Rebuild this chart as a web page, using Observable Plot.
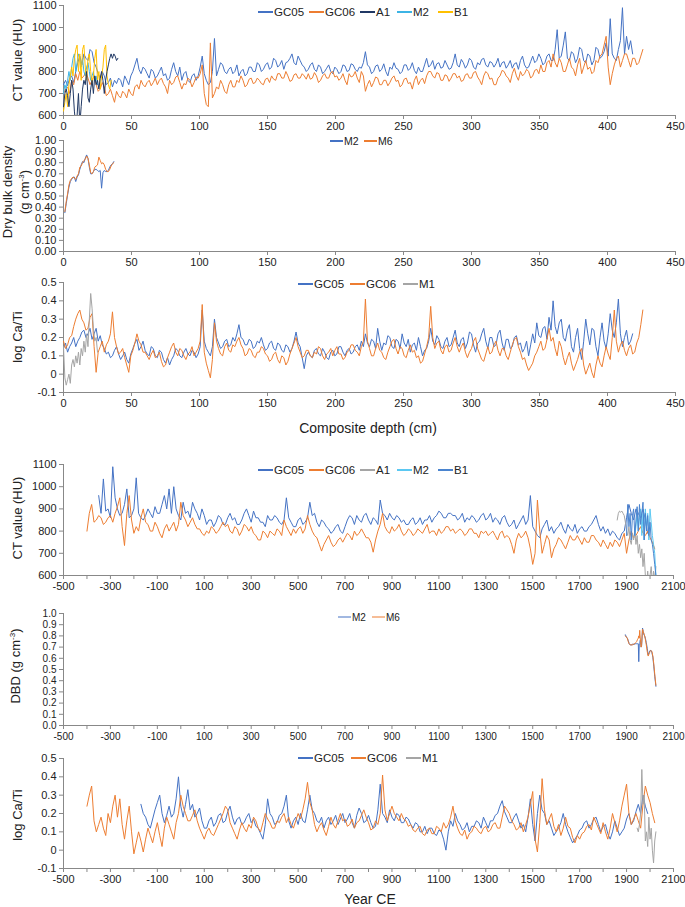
<!DOCTYPE html>
<html>
<head>
<meta charset="utf-8">
<script src="https://cdn.jsdelivr.net/npm/d3@7"></script>
<script src="https://cdn.jsdelivr.net/npm/@observablehq/plot@0.6"></script>
<style>
  body { margin: 0; background: #fff; font-family: "Liberation Sans", Arial, Helvetica, sans-serif; color: #222; }
  #wrap { position: relative; width: 685px; height: 907px; overflow: hidden; }
  .panel { position: absolute; left: 0; }
  .ytitle { position: absolute; transform: translate(-50%, -50%) rotate(-90deg); white-space: nowrap; font-size: 13px; line-height: 17px; text-align: center; }
  .ytitle sup { font-size: 8px; vertical-align: 5px; line-height: 0; }
  .xtitle { position: absolute; transform: translate(-50%, -50%); white-space: nowrap; font-size: 14px; }
  .leg { position: absolute; display: flex; align-items: center; white-space: nowrap; transform: translateY(-50%); }
  .leg i { display: inline-block; height: 1.5px; margin-right: 1px; }
</style>
</head>
<body>
<div id="wrap"></div>
<script>
// Sediment cores: CT value, dry bulk density and log Ca/Ti, vs depth and vs year

const FONT = '"Liberation Sans", Arial, Helvetica, sans-serif';

// --- CT value vs composite depth (cm), GC cores every 1.5 cm
const ctDepthGC05 = [
  740,760,735,770,780,750,800,840,870,830,880,860,850,900,890,840,820,790,770,800,780,740,750,770,730,760,745,770,
  760,730,780,760,740,780,800,830,860,810,790,820,
  810,790,770,810,800,770,780,800,820,780,790,760,770,810,840,800,780,820,760,790,800,760,750,780,790,760,780,820,
  870,790,760,740,750,800,950,780,
  810,840,830,800,790,810,820,790,800,830,780,800,810,780,790,820,820,800,800,840,830,800,810,830,
  840,810,820,860,850,820,830,850,810,840,845,860,880,840,830,870,850,830,820,800,
  810,830,840,810,800,830,820,790,800,815,830,800,790,820,810,790,800,830,825,800,805,835,830,810,800,820,815,840,
  890,830,820,790,800,825,830,800,810,835,800,780,820,810,840,815,810,790,800,830,830,805,815,840,805,790,820,800,800,830,860,820,
  830,850,810,835,840,815,820,850,830,810,815,840,880,830,
  820,855,840,815,830,860,850,820,810,840,830,855,860,830,820,845,840,820,835,860,820,840,845,815,830,850,815,835,840,810,850,870,830,815,
  820,845,870,840,850,880,860,830,840,870,880,850,
  850,900,990,860,870,920,980,860,850,890,880,840,860,910,900,850,840,880,870,830,850,910,900,860,870,890,930,870,1040,880,860,850,900,940,1090,880,960,900,940,880
];
const ctDepthGC06 = [
  700,720,730,700,760,740,790,760,800,770,780,800,770,740,760,780,740,710,720,750,730,690,700,720,690,660,710,690,
  680,710,700,680,720,700,690,730,740,720,760,740,
  730,750,760,735,750,770,740,760,770,745,730,700,760,740,750,775,780,750,720,745,740,770,760,730,750,775,770,790,
  830,700,650,640,930,680,700,730,
  720,760,740,710,700,740,760,730,730,760,750,780,760,730,740,765,770,745,750,770,760,745,740,765,
  770,750,780,765,760,790,790,770,770,800,780,755,760,785,790,770,770,790,780,765,
  790,765,770,795,780,750,760,780,790,770,770,795,800,775,780,760,770,790,760,740,790,775,780,800,770,750,800,780,
  710,740,760,730,750,775,770,740,740,760,760,735,750,770,780,755,760,730,740,765,770,745,750,720,760,780,740,760,770,745,780,800,
  800,780,770,795,790,760,760,785,780,755,770,790,790,770,
  780,755,760,785,790,770,770,795,800,775,760,740,780,800,790,765,770,740,740,770,780,805,800,780,770,750,790,815,780,760,800,780,790,810,
  800,770,780,805,810,790,830,800,800,840,850,820,
  880,840,820,860,840,800,800,830,860,820,810,780,830,860,790,820,850,810,820,790,800,850,840,870,880,920,960,820,740,790,830,860,870,820,850,880,880,850,820,860,860,830,840,870,900
];
// short cores, every 1 cm
const ctDepthA1 = [
  640,700,720,690,640,700,760,720,620,560,
  600,700,560,640,720,760,740,800,680,660,
  720,760,700,780,740,760,720,770,800,760,
  700,760,800,830,860,880,860,880,870,850,860
];
const ctDepthM2 = [700,740,720,760,800,760,820,860,880,800,840,880,860,820,860,800,780,820,840,800,760,780,800,760,780,740];
const ctDepthB1 = [
  620,660,700,640,740,780,820,780,860,900,
  920,800,880,760,900,920,820,760,860,880,
  800,740,780,860,900,760,800,720,780,820,
  900,920,780,740,720,760
];

// --- Dry bulk density vs depth, 1..37 cm
const dbdDepthM2 = [.35,.43,.51,.58,.63,.65,.67,.67,.63,.67,.69,.74,.78,.81,.80,.84,.87,.84,.76,.70,.70,.72,.74,.74,.73,.72,.73,.57,.71,.73,.72,.72,.73,.76,.78,.79,.81];
const dbdDepthM6 = [.36,.45,.52,.60,.64,.66,.67,.66,.65,.68,.70,.76,.77,.80,.82,.83,.86,.84,.78,.71,.70,.72,.76,.77,.78,.85,.82,.79,.80,.78,.74,.72,.72,.74,.77,.79,.80];

// --- log Ca/Ti vs depth, every 1.5 cm
const caDepthGC05 = [
  .14,.17,.12,.15,.17,.20,.15,.18,.20,.23,.24,.20,.22,.25,.19,.22,.25,.18,.21,.16,.14,.11,.12,.09,.10,.13,.15,.11,
  .08,.10,.12,.08,.06,.11,.14,.17,.19,.13,.15,.18,
  .13,.11,.10,.15,.14,.10,.09,.13,.12,.08,.06,.09,.05,.08,.10,.14,.13,.10,.09,.12,.14,.11,.10,.13,.12,.09,.11,.15,
  .35,.18,.14,.12,.10,.15,.30,.20,
  .17,.14,.15,.18,.19,.15,.16,.20,.18,.22,.27,.20,.19,.16,.16,.19,.18,.14,.15,.18,.17,.20,.16,.13,
  .14,.17,.18,.14,.13,.17,.16,.13,.12,.16,.15,.12,.14,.18,.23,.17,.15,.09,.03,.10,
  .12,.10,.09,.13,.14,.11,.10,.14,.12,.09,.08,.12,.13,.10,.11,.15,.15,.12,.10,.13,.14,.11,.12,.15,.16,.13,.18,.15,
  .22,.17,.15,.19,.18,.14,.25,.18,.13,.17,.16,.21,.20,.15,.14,.19,.18,.14,.22,.17,.15,.19,.12,.16,.17,.13,.20,.15,.10,.13,.14,.18,
  .25,.18,.16,.21,.19,.15,.14,.18,.20,.15,.16,.20,.24,.17,
  .15,.19,.20,.14,.17,.23,.22,.16,.12,.17,.18,.22,.25,.18,.14,.20,.20,.15,.16,.22,.24,.17,.13,.19,.19,.14,.15,.20,.21,.16,.17,.12,.14,.18,
  .10,.16,.22,.17,.28,.21,.20,.25,.26,.19,.31,.24,
  .40,.26,.22,.28,.30,.20,.18,.24,.27,.15,.12,.20,.25,.14,.08,.18,.30,.22,.16,.25,.24,.15,.10,.20,.28,.18,.14,.22,.33,.24,.20,.28,.41,.22,.15,.20,.24,.16,.18,.22
];
const caDepthGC06 = [
  .18,.14,.16,.20,.21,.26,.30,.33,.35,.30,.28,.24,.25,.31,.33,.15,.01,.12,.15,.18,.12,.16,.18,.22,.34,.20,.15,.11,
  .12,.14,.09,.05,.01,.10,.13,.17,.22,.18,.16,.12,
  .12,.10,.08,.11,.13,.09,.10,.12,.07,.04,.05,.09,.12,.15,.17,.12,.10,.14,.13,.10,.08,.11,.12,.15,.10,.12,.14,.18,
  .38,.12,.06,.02,-.02,.08,.28,.18,
  .14,.11,.10,.15,.17,.13,.12,.16,.15,.18,.20,.16,.14,.10,.11,.14,.13,.10,.09,.12,.12,.15,.14,.11,
  .10,.07,.08,.11,.12,.08,.06,.10,.09,.05,.07,.11,.14,.17,.20,.15,.12,.09,.10,.13,
  .13,.10,.09,.12,.11,.15,.14,.10,.08,.11,.12,.14,.10,.13,.15,.11,.11,.08,.09,.12,.13,.16,.16,.13,.12,.10,.15,.18,
  .41,.18,.14,.10,.10,.14,.17,.13,.12,.09,.08,.12,.15,.18,.19,.14,.11,.15,.14,.10,.09,.13,.16,.12,.13,.09,.10,.06,.07,.11,.15,.20,
  .37,.20,.14,.17,.18,.13,.11,.15,.16,.12,.13,.17,.20,.15,
  .12,.15,.17,.12,.09,.12,.14,.18,.20,.14,.11,.08,.07,.11,.15,.11,.12,.16,.18,.13,.10,.14,.14,.10,.08,.12,.16,.19,.20,.15,.12,.08,.09,.05,
  .02,.04,.06,.10,.12,.15,.18,.13,.14,.19,.25,.18,
  .20,.14,.10,.18,.15,.09,.05,.09,.12,.06,.02,.05,.08,.12,.14,.05,.00,.03,.06,.01,-.02,.05,.10,.06,.04,.10,.15,.11,.08,.20,.35,.18,.12,.16,.18,.13,.10,.14,.16,.11,.12,.17,.20,.27,.35
];
const caDepthM1 = [.15,-.02,-.06,-.03,.00,-.05,.05,.08,.04,.10,.06,.12,.05,.14,.10,.18,.12,.22,.15,.30,.44,.36,.25,.18,.20,.12];

// --- CT value vs year CE, every 10 years
const ctYearGC05 = [ // from -350
  960,880,1035,890,900,860,1090,950,900,870,880,920,990,860,870,900,1040,880,860,850,
  870,900,880,860,910,880,880,920,960,900,990,880,1000,900,870,850,930,880,890,860,
  930,900,880,850,900,870,830,850,850,820,840,870,860,830,830,860,880,850,860,830,
  830,850,880,900,870,840,890,860,860,840,840,820,870,850,850,870,860,840,830,850,
  950,860,840,820,820,850,860,830,840,860,930,870,880,840,820,850,840,820,810,790,
  800,820,830,800,790,820,850,870,860,830,870,850,840,870,880,850,830,860,850,830,
  940,880,870,850,880,860,850,870,860,840,850,830,830,850,860,830,840,860,830,850,
  850,870,840,860,870,890,880,860,860,880,880,870,870,850,860,880,840,860,850,870,
  860,840,850,870,880,850,860,880,840,860,850,830,860,870,840,820,830,850,810,830,
  850,870,830,850,960,820,800,780,770,810,830,850,800,820,790,810,820,840,810,790,
  830,810,800,830,790,810,820,800,800,820,830,850,870,830,800,820,790,810,780,800,
  790,770,760,790,800,860,920,880,850,900,880,860,900,850,790
];
const ctYearGC06 = [ // from -400
  800,880,920,840,850,870,860,830,840,860,870,840,880,910,950,820,735,880,960,850,
  790,820,800,860,900,840,830,800,800,840,820,790,770,810,830,800,820,840,800,830,
  930,870,850,820,840,860,830,810,810,790,780,800,790,820,810,790,800,820,840,820,
  830,800,790,820,810,780,800,830,820,800,820,790,780,760,760,800,790,770,800,790,
  780,810,800,780,850,820,800,780,810,790,810,820,790,810,870,830,800,780,770,740,
  710,740,760,780,750,730,740,760,770,750,770,790,780,760,800,780,790,810,790,770,
  770,750,705,760,800,830,880,820,800,790,820,800,810,830,800,780,790,810,800,780,
  790,810,800,790,810,830,790,800,800,780,810,790,800,820,820,800,810,790,800,810,
  800,780,790,810,810,790,790,770,800,790,800,780,790,800,780,760,790,800,770,780,
  770,740,700,760,790,770,780,800,770,720,650,700,940,800,700,740,780,760,680,720,
  740,770,760,740,720,750,780,760,760,780,760,740,770,750,750,780,780,760,750,730,
  760,740,720,750,730,760,750,730,760,790,700,760,800,770,780,800,820,790,780,800,
  770,750,720
];
// short cores, every 5 years
const ctYearA1 = [ // from 1860
  850,880,890,885,890,880,870,840,800,780,
  820,760,740,790,760,800,740,780,700,740,
  680,720,640,700,600,560,620,560,600,640,
  560,620,580,640
];
const ctYearM2 = [780,820,880,800,860,900,780,880,760,900,820,880,760,900,840,780,740,700,600]; // from 1935
const ctYearB1 = [ // from 1900
  780,920,820,880,760,870,900,780,850,910,800,920,830,880,930,760,880,800,870,780,840,760,740,700,650,600
];

// --- DBD vs year CE
const dbdYears = [1895,1899,1903,1907,1911,1915,1919,1923,1927,1931,1935,1939,1943,1947,1950,1952,1954,1956,1958,1960,1962,1964,1966,1968,1971,1974,1977,1980,1984,1988,1992,1996,2000,2004,2008,2012,2016,2020,2025];
const dbdYearM2 = [.81,.79,.78,.76,.73,.72,.72,.72,.73,.72,.73,.73,.73,.73,.73,.57,.72,.73,.76,.74,.70,.71,.79,.87,.84,.81,.80,.78,.74,.69,.63,.65,.67,.67,.65,.61,.53,.44,.35];
const dbdYearM6 = [.80,.79,.78,.75,.73,.72,.72,.72,.72,.73,.73,.74,.75,.77,.78,.80,.78,.85,.79,.74,.70,.72,.78,.86,.84,.82,.80,.77,.72,.66,.62,.64,.66,.67,.66,.62,.55,.46,.36];

// --- log Ca/Ti vs year CE, every 10 years
const caYearGC05 = [ // from -170
  .25,.20,.18,.14,.12,.17,.22,.26,.30,.20,.15,.19,.24,.18,.20,.28,.40,.24,.18,.25,.33,.22,
  .25,.18,.20,.23,.16,.12,.12,.16,.18,.13,.15,.19,.20,.15,.16,.21,.24,.18,.14,.17,.18,.14,
  .15,.18,.20,.15,.17,.13,.12,.09,.06,.14,.28,.20,.18,.14,.15,.19,.20,.24,.30,.16,
  .12,.16,.18,.14,.20,.16,.15,.22,.30,.22,.20,.16,.15,.18,.12,.16,.18,.14,.16,.19,
  .14,.17,.20,.15,.17,.20,.15,.12,.19,.23,.20,.15,.16,.19,.15,.12,.13,.22,.36,.20,
  .18,.15,.22,.18,.16,.20,.19,.15,.15,.18,.17,.14,.12,.15,.14,.10,.10,.13,.09,.12,
  .12,.09,.08,.11,.10,.06,.00,.10,.16,.13,.20,.16,.14,.11,.12,.15,.10,.13,.13,.16,
  .15,.12,.18,.15,.12,.16,.16,.19,.20,.24,.27,.21,.18,.15,.15,.18,.20,.16,.12,.14,
  .10,.18,.28,.14,.05,.20,.30,.22,.20,.14,.16,.12,.08,.10,.12,.15,.20,.14,.10,.07,
  .04,.06,.08,.11,.12,.15,.16,.12,.14,.17,.18,.14,.10,.13,.14,.09,.06,.10,.16,.12,
  .08,.10,.12,.17,.20,.14,.16,.21,.25,.20,.30,.24,.20
];
const caYearGC06 = [ // from -400
  .24,.30,.35,.16,.10,.14,.18,.12,.08,.20,.15,.24,.30,.18,.28,.14,.06,.16,.24,.10,
  -.02,.04,.10,.05,-.01,.06,.12,.08,.04,.10,.15,.08,.02,.12,.18,.14,.10,.06,.15,.20,
  .30,.24,.20,.16,.16,.19,.22,.16,.12,.09,.06,.10,.12,.09,.08,.11,.14,.17,.20,.24,
  .22,.15,.12,.09,.06,.11,.15,.12,.10,.14,.12,.18,.16,.12,.10,.15,.20,.17,.15,.12,
  .12,.16,.15,.18,.20,.15,.18,.14,.12,.16,.20,.17,.22,.28,.37,.26,.22,.14,.10,.13,
  .15,.11,.08,.13,.18,.14,.12,.16,.20,.16,.17,.13,.14,.17,.12,.15,.16,.19,.22,.18,
  .15,.11,.12,.16,.14,.20,.41,.22,.16,.20,.24,.20,.18,.16,.20,.17,.16,.13,.14,.11,
  .10,.12,.13,.09,.08,.11,.12,.09,.09,.13,.12,.10,.15,.12,.14,.18,.24,.16,.12,.09,
  .08,.11,.06,.09,.10,.13,.12,.10,.09,.12,.13,.10,.11,.14,.15,.12,.12,.18,.24,.22,
  .20,.16,.14,.11,.12,.15,.10,.14,.18,.25,.32,.06,-.01,.15,.39,.22,.14,.17,.20,.13,
  .10,.14,.08,.12,.18,.13,.12,.07,.04,.08,.06,.09,.10,.13,.14,.11,.18,.15,.12,.09,
  .15,.10,.06,.12,.20,.15,.10,.16,.24,.30,.36,.20,.14,.17,.20,.16,.12,.25,.35,.30,
  .26,.20,.15
];
const caYearM1 = [.12,.10,.14,.20,.44,.25,.30,.05,.10,.02,.18,.06,.12,.00,-.07,.05,.10]; // from 1945

// --- axes
const depthTicks = [0,50,100,150,200,250,300,350,400,450];
const yearTicks = d3.range(-500, 2101, 100);
const ctTicks = [600,700,800,900,1000,1100];
const dbdTicks = [0,.1,.2,.3,.4,.5,.6,.7,.8,.9,1];
const caTicks = [-.1,0,.1,.2,.3,.4,.5];

const C = { gc05: "#4472c4", gc06: "#ed7d31", navy: "#203864", sky: "#3cb4e5", gold: "#ffc000", gray: "#a5a5a5", cyan: "#5bc8f2", blue: "#4a84cf" };

function series(values, start, step) {
  return values.map((v, i) => ({ x: start + i * step, y: v }));
}
function pairs(xs, ys) {
  return ys.map((v, i) => ({ x: xs[i], y: v }));
}

const wrap = document.getElementById("wrap");
const yearFormat = d => ((d + 500) % 200 === 0 ? String(d) : "");

function drawPanel(p) {
  const plot = Plot.plot({
    width: 685,
    height: p.plotH + 27,
    marginTop: 5,
    marginBottom: 22,
    marginLeft: 63,
    marginRight: p.marginRight,
    style: { background: "none", fontFamily: FONT, fontSize: (p.fontSize || 11) + "px", color: "#222", overflow: "visible" },
    x: { domain: p.xDomain },
    y: { domain: p.yDomain },
    marks: [
      Plot.axisX({ ticks: p.xTicks, tickFormat: p.xFormat || String, tickSize: 4, tickPadding: 3, stroke: "#888", fill: "#222", label: null }),
      Plot.axisY({ ticks: p.yTicks, tickFormat: p.yFormat, tickSize: 4, tickPadding: 3, stroke: "#888", fill: "#222", label: null }),
      Plot.ruleX([p.xDomain[0]], { stroke: "#888" }),
      Plot.ruleY([p.yDomain[0]], { stroke: "#888" }),
      ...p.lines.map(l => Plot.line(l.data, { x: "x", y: "y", stroke: l.color, strokeWidth: 1, clip: true })),
    ],
  });
  const div = document.createElement("div");
  div.className = "panel";
  div.style.top = (p.top - 5) + "px";
  div.appendChild(plot);
  wrap.appendChild(div);

  const t = document.createElement("div");
  t.className = "ytitle";
  t.style.left = p.title.x + "px";
  t.style.top = p.title.y + "px";
  t.innerHTML = p.title.html;
  wrap.appendChild(t);

  const fs = p.legend.fontSize || 11.5;
  for (const it of p.legend.items) {
    const g = document.createElement("div");
    g.className = "leg";
    g.style.left = it.x + "px";
    g.style.top = p.legend.y + "px";
    g.style.fontSize = fs + "px";
    g.innerHTML = `<i style="width:${p.legend.sw || 15}px;background:${it.color}"></i>${it.label}`;
    wrap.appendChild(g);
  }
}

const ctTitle = "CT value (HU)";
const caTitle = "log Ca/Ti";

drawPanel({
  top: 5, plotH: 110, marginRight: 10,
  xDomain: [0, 450], xTicks: depthTicks,
  yDomain: [600, 1100], yTicks: ctTicks, yFormat: String,
  lines: [
    { data: series(ctDepthGC05, 0, 1.5), color: C.gc05 },
    { data: series(ctDepthGC06, 0, 1.5), color: C.gc06 },
    { data: series(ctDepthM2, 0, 1), color: C.sky },
    { data: series(ctDepthB1, 0, 1), color: C.gold },
    { data: series(ctDepthA1, 0, 1), color: C.navy },
  ],
  title: { x: 17, y: 60, html: ctTitle },
  legend: { y: 12, items: [
    { label: "GC05", color: C.gc05, x: 258 }, { label: "GC06", color: C.gc06, x: 309 },
    { label: "A1", color: C.navy, x: 360 }, { label: "M2", color: C.sky, x: 397 }, { label: "B1", color: C.gold, x: 438 } ] },
});

drawPanel({
  top: 140, plotH: 111, marginRight: 10,
  xDomain: [0, 450], xTicks: depthTicks,
  yDomain: [0, 1], yTicks: dbdTicks, yFormat: d => d.toFixed(2),
  lines: [
    { data: series(dbdDepthM2, 1, 1), color: C.gc05 },
    { data: series(dbdDepthM6, 1, 1), color: C.gc06 },
  ],
  title: { x: 16, y: 192, html: "Dry bulk density<br>(g cm<sup>-3</sup>)" },
  legend: { y: 141, fontSize: 10.5, sw: 13, items: [
    { label: "M2", color: C.gc05, x: 330 }, { label: "M6", color: C.gc06, x: 364 } ] },
});

drawPanel({
  top: 282, plotH: 110, marginRight: 10,
  xDomain: [0, 450], xTicks: depthTicks,
  yDomain: [-0.1, 0.5], yTicks: caTicks, yFormat: d => (d === 0 ? "0" : String(d)),
  lines: [
    { data: series(caDepthGC05, 0, 1.5), color: C.gc05 },
    { data: series(caDepthGC06, 0, 1.5), color: C.gc06 },
    { data: series(caDepthM1, 0, 1), color: C.gray },
  ],
  title: { x: 17, y: 337, html: caTitle },
  legend: { y: 284, items: [
    { label: "GC05", color: C.gc05, x: 298 }, { label: "GC06", color: C.gc06, x: 350 }, { label: "M1", color: C.gray, x: 403 } ] },
});

drawPanel({
  top: 464, plotH: 111, marginRight: 12,
  xDomain: [-500, 2100], xTicks: yearTicks, xFormat: yearFormat,
  yDomain: [600, 1100], yTicks: ctTicks, yFormat: String,
  lines: [
    { data: series(ctYearGC05, -350, 10), color: C.gc05 },
    { data: series(ctYearGC06, -400, 10), color: C.gc06 },
    { data: series(ctYearA1, 1860, 5), color: C.gray },
    { data: series(ctYearM2, 1935, 5), color: C.cyan },
    { data: series(ctYearB1, 1900, 5), color: C.blue },
  ],
  title: { x: 17, y: 518, html: ctTitle },
  legend: { y: 470, items: [
    { label: "GC05", color: C.gc05, x: 258 }, { label: "GC06", color: C.gc06, x: 309 },
    { label: "A1", color: C.gray, x: 360 }, { label: "M2", color: C.cyan, x: 397 }, { label: "B1", color: C.blue, x: 438 } ] },
});

drawPanel({
  top: 613, plotH: 112, marginRight: 12, fontSize: 10,
  xDomain: [-500, 2100], xTicks: yearTicks, xFormat: yearFormat,
  yDomain: [0, 1], yTicks: dbdTicks, yFormat: d => d.toFixed(1),
  lines: [
    { data: pairs(dbdYears, dbdYearM2), color: C.gc05 },
    { data: pairs(dbdYears, dbdYearM6), color: C.gc06 },
  ],
  title: { x: 15, y: 666, html: "DBD (g cm<sup>-3</sup>)" },
  legend: { y: 617, fontSize: 10, sw: 13, items: [
    { label: "M2", color: C.gc05, x: 338 }, { label: "M6", color: C.gc06, x: 372 } ] },
});

drawPanel({
  top: 758, plotH: 110, marginRight: 12,
  xDomain: [-500, 2100], xTicks: yearTicks, xFormat: yearFormat,
  yDomain: [-0.1, 0.5], yTicks: caTicks, yFormat: d => (d === 0 ? "0" : String(d)),
  lines: [
    { data: series(caYearGC05, -170, 10), color: C.gc05 },
    { data: series(caYearGC06, -400, 10), color: C.gc06 },
    { data: series(caYearM1, 1945, 5), color: C.gray },
  ],
  title: { x: 17, y: 815, html: caTitle },
  legend: { y: 758, items: [
    { label: "GC05", color: C.gc05, x: 298 }, { label: "GC06", color: C.gc06, x: 351 }, { label: "M1", color: C.gray, x: 406 } ] },
});

for (const [text, x, y] of [["Composite depth (cm)", 368, 428], ["Year CE", 370, 899]]) {
  const d = document.createElement("div");
  d.className = "xtitle";
  d.style.left = x + "px";
  d.style.top = y + "px";
  d.textContent = text;
  wrap.appendChild(d);
}
</script>
</body>
</html>
